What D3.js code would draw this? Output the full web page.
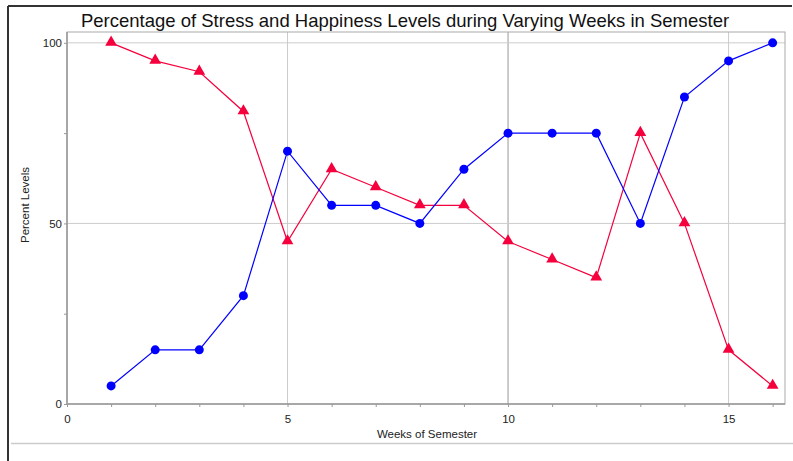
<!DOCTYPE html>
<html>
<head>
<meta charset="utf-8">
<script src="https://d3js.org/d3.v7.min.js"></script>
<style>
body { margin: 0; background: #fff; }
svg text { font-family: Arial, "Liberation Sans", sans-serif; }
</style>
</head>
<body>
<div id="wrapper"></div>
<script>
var weeks = [1,2,3,4,5,6,7,8,9,10,11,12,13,14,15,16];
var happiness = [5,15,15,30,70,55,55,50,65,75,75,75,50,85,95,100];
var stress = [100,95,92,81,45,65,60,55,55,45,40,35,75,50,15,5];
var xTicks = [0,5,10,15];
var yTicks = [0,50,100];

var W = 793, H = 461;
var m = {left: 67, top: 32, right: 785, bottom: 404};

var svg = d3.select('#wrapper').append('svg')
	.attr('width', W).attr('height', H);

// outer frame
svg.append('line').attr('x1', 8).attr('x2', 8).attr('y1', 6).attr('y2', H)
	.style('stroke', '#333').style('stroke-width', 2);
svg.append('line').attr('x1', 8).attr('x2', 792).attr('y1', 6).attr('y2', 6)
	.style('stroke', '#333').style('stroke-width', 2);
svg.append('line').attr('x1', 11).attr('x2', W).attr('y1', 443.5).attr('y2', 443.5)
	.style('stroke', '#ccc').style('stroke-width', 1.5);

var x = d3.scaleLinear().domain([0, 16.28]).range([m.left, m.right]);
var y = d3.scaleLinear().domain([0, 103]).range([m.bottom, m.top]);

// grid
svg.selectAll('.vgrid').data(xTicks.slice(1)).enter().append('line')
	.attr('x1', d => x(d)).attr('x2', d => x(d))
	.attr('y1', m.top).attr('y2', m.bottom)
	.style('stroke', d => d === 10 ? '#999' : '#ccc');
svg.selectAll('.hgrid').data(yTicks.slice(1)).enter().append('line')
	.attr('x1', m.left).attr('x2', m.right)
	.attr('y1', d => y(d)).attr('y2', d => y(d))
	.style('stroke', '#ccc');

// plot border
svg.append('rect').attr('x', m.left).attr('y', m.top)
	.attr('width', m.right - m.left).attr('height', m.bottom - m.top)
	.style('fill', 'none').style('stroke', '#aaa');

// axes
var xAxis = d3.axisBottom(x).tickValues(d3.range(0, 17)).tickSize(3)
	.tickFormat(d => xTicks.indexOf(d) >= 0 ? d : '');
var gx = svg.append('g').attr('transform', 'translate(0,' + m.bottom + ')').call(xAxis);
gx.select('.domain').remove();
gx.selectAll('line').style('stroke', '#999');
gx.selectAll('text').attr('dy', '1.1em').style('font-size', '11.5px').style('fill', '#222');

var yAxis = d3.axisLeft(y).tickValues([0,25,50,75,100]).tickSize(3)
	.tickFormat(d => yTicks.indexOf(d) >= 0 ? d : '');
var gy = svg.append('g').attr('transform', 'translate(' + m.left + ',0)').call(yAxis);
gy.select('.domain').remove();
gy.selectAll('line').style('stroke', '#999');
gy.selectAll('text').attr('x', -5).style('font-size', '11.5px').style('fill', '#222');

svg.append('line').attr('x1', m.left).attr('x2', m.left).attr('y1', m.top).attr('y2', m.bottom)
	.style('stroke', '#999').style('stroke-width', 1.5);
svg.append('line').attr('x1', m.left).attr('x2', m.right).attr('y1', m.bottom).attr('y2', m.bottom)
	.style('stroke', '#999').style('stroke-width', 1.5);

// titles
svg.append('text').attr('x', 405).attr('y', 27).attr('text-anchor', 'middle')
	.style('font-size', '18.5px').style('fill', '#111')
	.text('Percentage of Stress and Happiness Levels during Varying Weeks in Semester');
svg.append('text').attr('x', 427).attr('y', 438).attr('text-anchor', 'middle')
	.style('font-size', '11.5px').style('fill', '#222').text('Weeks of Semester');
svg.append('text').attr('transform', 'translate(29,205) rotate(-90)').attr('text-anchor', 'middle')
	.style('font-size', '11.5px').style('fill', '#222').text('Percent Levels');

// series
var line = d3.line().x((d, i) => x(weeks[i])).y(d => y(d));
var blue = '#0000ff', red = '#f5003c';

svg.append('path').datum(stress).attr('d', line)
	.style('fill', 'none').style('stroke', red).style('stroke-width', 1.2);
svg.append('path').datum(happiness).attr('d', line)
	.style('fill', 'none').style('stroke', blue).style('stroke-width', 1.2);

var tri = d3.symbol().type(d3.symbolTriangle).size(60);
svg.selectAll('.tri').data(stress).enter().append('path')
	.attr('d', tri)
	.attr('transform', (d, i) => 'translate(' + x(weeks[i]) + ',' + (y(d) - 0.5) + ')')
	.style('fill', red);
svg.selectAll('.dot').data(happiness).enter().append('circle')
	.attr('cx', (d, i) => x(weeks[i])).attr('cy', d => y(d)).attr('r', 4.5)
	.style('fill', blue);
</script>
</body>
</html>
